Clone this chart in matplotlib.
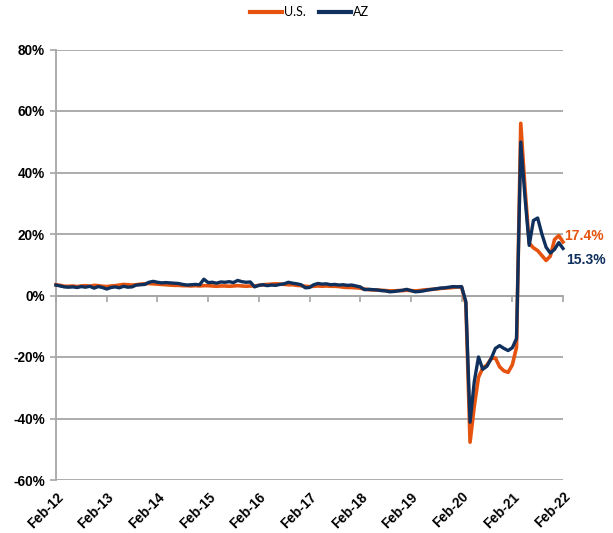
import numpy as np
import matplotlib
matplotlib.use('Agg')
import matplotlib.pyplot as plt

plt.rcParams['font.family'] = 'Liberation Sans'

# year-over-year % change, monthly from Feb-12 to Feb-22
tick_labels = ['Feb-12', 'Feb-13', 'Feb-14', 'Feb-15', 'Feb-16', 'Feb-17',
               'Feb-18', 'Feb-19', 'Feb-20', 'Feb-21', 'Feb-22']

us = [3.5, 3.3, 3.0, 3.0, 3.1, 2.9, 3.1, 3.2, 3.0, 3.3, 3.2, 3.0,
      2.9, 3.1, 3.2, 3.4, 3.6, 3.5, 3.4, 3.5, 3.7, 3.8, 3.9, 3.8,
      3.7, 3.6, 3.5, 3.4, 3.3, 3.3, 3.2, 3.2, 3.1, 3.2, 3.1, 3.2,
      3.2, 3.1, 3.0, 3.1, 3.1, 3.0, 3.1, 3.2, 3.1, 3.0, 3.1, 3.1,
      3.3, 3.5, 3.6, 3.7, 3.8, 3.7, 3.6, 3.5, 3.5, 3.3, 3.2, 3.0,
      2.9, 3.0, 3.1, 3.0, 3.1, 3.0, 3.0, 2.9, 2.7, 2.6, 2.6, 2.5,
      2.4, 2.1, 1.9, 1.8, 1.8, 1.7, 1.6, 1.5, 1.5, 1.6, 1.6, 1.7,
      1.6, 1.5, 1.6, 1.8, 1.9, 2.0, 2.1, 2.3, 2.4, 2.5, 2.6, 2.8,
      2.7, -2.5, -47.7, -36.0, -26.6, -23.6, -22.6, -20.5, -20.3, -23.2, -24.5, -25.0,
      -22.6, -16.8, 56.0, 35.0, 17.0, 15.5, 14.6, 13.0, 11.4, 12.8, 18.2, 19.5,
      17.4]

az = [3.4, 3.1, 2.8, 2.7, 2.8, 2.6, 2.9, 2.7, 3.0, 2.4, 2.9, 2.6,
      2.1, 2.6, 2.8, 2.5, 3.0, 2.7, 2.8, 3.4, 3.5, 3.6, 4.3, 4.6,
      4.3, 4.1, 4.2, 4.1, 4.0, 3.9, 3.6, 3.4, 3.5, 3.6, 3.5, 5.3,
      4.2, 4.3, 4.0, 4.4, 4.3, 4.5, 4.2, 4.9, 4.5, 4.3, 4.4, 2.8,
      3.3, 3.5, 3.2, 3.4, 3.3, 3.6, 3.8, 4.3, 4.0, 3.8, 3.5, 2.5,
      2.6, 3.5, 3.9, 3.7, 3.8, 3.5, 3.6, 3.4, 3.5, 3.3, 3.4, 3.1,
      2.8, 1.9, 2.0, 1.9, 1.8, 1.6, 1.5, 1.2, 1.3, 1.5, 1.7, 2.0,
      1.6, 1.2, 1.3, 1.5, 1.8, 2.0, 2.2, 2.4, 2.5, 2.7, 2.9, 2.8,
      2.9, -2.0, -41.2, -28.0, -20.0, -24.0, -23.0, -20.5, -17.2, -16.3, -17.2, -17.9,
      -17.0, -14.0, 49.9, 32.0, 16.3, 24.4, 25.2, 20.0, 15.7, 13.8, 15.0, 17.2,
      15.3]

us_color = '#E5530F'
az_color = '#0F2F5C'
grid_color = '#A6A6A6'

months = np.arange(len(us))

fig = plt.figure(figsize=(6.13, 5.33), dpi=100)
ax = fig.add_axes([56/613, 1-480/533, (563-56)/613, (480-49.5)/533])

ax.plot(months, us, color=us_color, lw=2.6, label='U.S.', zorder=3,
        solid_joinstyle='round', clip_on=False)
ax.plot(months, az, color=az_color, lw=2.4, label='AZ', zorder=4,
        solid_joinstyle='round', clip_on=False)

ax.set_xlim(0, 120)
ax.set_ylim(-60, 80)
ax.set_yticks(np.arange(-60, 81, 20))
ax.set_yticklabels(['{:d}%'.format(v) for v in range(-60, 81, 20)],
                   fontsize=9.8, fontweight='bold')
ax.yaxis.grid(True, color=grid_color, lw=1.3)
ax.set_axisbelow(True)

ax.set_xticks(np.arange(0, 121, 12))
ax.set_xticklabels(tick_labels, rotation=45, ha='right', va='top',
                   rotation_mode='anchor', fontsize=9.8, fontweight='bold')
ax.tick_params(axis='x', length=0, pad=7)
ax.tick_params(axis='y', length=4, color=grid_color, width=1.2, pad=4)

for s in ['top', 'right', 'bottom']:
    ax.spines[s].set_visible(False)
ax.spines['left'].set_color(grid_color)
ax.spines['left'].set_linewidth(1.3)

# zero line with year tick marks
sec = ax.secondary_xaxis(60/140)
sec.set_xticks(np.arange(0, 121, 12))
sec.set_xticklabels([])
sec.tick_params(length=4, color=grid_color, width=1.2, direction='out')
sec.spines['bottom'].set_color(grid_color)
sec.spines['bottom'].set_linewidth(1.3)

ax.annotate('{:.1f}%'.format(us[-1]), xy=(months[-1], us[-1]),
            xytext=(1, 4), textcoords='offset points', color=us_color,
            fontsize=10, fontweight='bold', va='center', ha='left')
ax.annotate('{:.1f}%'.format(az[-1]), xy=(months[-1], az[-1]),
            xytext=(2, -8), textcoords='offset points', color=az_color,
            fontsize=10, fontweight='bold', va='center', ha='left')

leg = fig.legend(loc='upper center', bbox_to_anchor=(0.505, 1.01), ncol=2,
                 frameon=False, handlelength=2.6, handletextpad=0.15,
                 columnspacing=1.0, prop={'family': 'Lato', 'size': 9})
for line in leg.get_lines():
    line.set_linewidth(3)

fig.savefig('out.png', dpi=100)
